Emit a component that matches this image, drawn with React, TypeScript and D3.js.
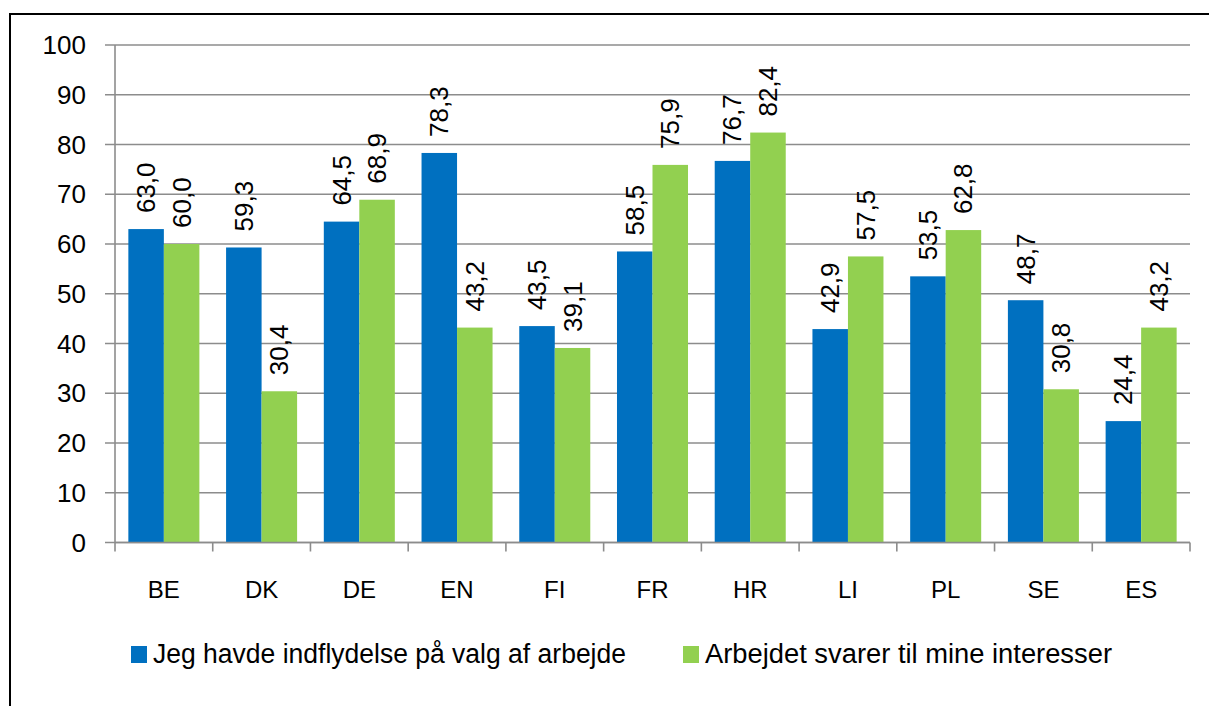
import React from "react";
import * as d3 from "d3";

const categories = ["BE", "DK", "DE", "EN", "FI", "FR", "HR", "LI", "PL", "SE", "ES"];
const seriesNames = [
  "Jeg havde indflydelse på valg af arbejde",
  "Arbejdet svarer til mine interesser",
];
const influenceValues = [63.0, 59.3, 64.5, 78.3, 43.5, 58.5, 76.7, 42.9, 53.5, 48.7, 24.4];
const interestValues = [60.0, 30.4, 68.9, 43.2, 39.1, 75.9, 82.4, 57.5, 62.8, 30.8, 43.2];
const yTicks = [0, 10, 20, 30, 40, 50, 60, 70, 80, 90, 100];
const colors = ["#0070C0", "#92D050"];

const W = 1209;
const H = 706;
const plotLeft = 115;
const plotRight = 1190;
const plotTop = 45;
const plotBottom = 542.5;
const FONT = "'Liberation Sans', Arial, sans-serif";

export default function App() {
  const x = d3.scaleBand<string>().domain(categories).range([plotLeft, plotRight]).padding(0);
  const x1 = d3
    .scaleBand<number>()
    .domain([0, 1])
    .range([0, x.bandwidth()])
    .paddingInner(0)
    .paddingOuter(0.376);
  const y = d3.scaleLinear().domain([0, 100]).range([plotBottom, plotTop]);
  const fmt = (v: number) => d3.format(".1f")(v).replace(".", ",");
  const series = [influenceValues, interestValues];
  const boundaries = [...categories.map((c) => x(c) as number), plotRight];

  return (
    <svg
      width={W}
      height={H}
      style={{ position: "absolute", left: 0, top: 0, background: "#fff" }}
      fontFamily={FONT}
    >
      <rect x={0} y={0} width={W} height={H} fill="#fff" />
      {/* outer chart border */}
      <rect x={10} y={14} width={W + 20} height={H + 20} fill="none" stroke="#000" strokeWidth={2} />

      {/* gridlines & y ticks */}
      {yTicks.map((t) => (
        <g key={t}>
          <line
            x1={plotLeft - 10}
            x2={plotRight}
            y1={y(t)}
            y2={y(t)}
            stroke="#8c8c8c"
            strokeWidth={1.6}
          />
          <text
            x={86}
            y={y(t)}
            textAnchor="end"
            dominantBaseline="central"
            fontSize={26}
            fill="#000"
          >
            {t}
          </text>
        </g>
      ))}

      {/* y axis line */}
      <line x1={plotLeft} x2={plotLeft} y1={plotTop} y2={plotBottom} stroke="#8c8c8c" strokeWidth={1.6} />

      {/* x tick marks */}
      {boundaries.map((b, i) => (
        <line key={i} x1={b} x2={b} y1={plotBottom} y2={plotBottom + 9} stroke="#8c8c8c" strokeWidth={1.6} />
      ))}

      {/* bars */}
      {series.map((vals, si) =>
        vals.map((v, i) => {
          const bx = (x(categories[i]) as number) + (x1(si) as number);
          return (
            <rect
              key={`${si}-${i}`}
              x={bx}
              y={y(v)}
              width={x1.bandwidth()}
              height={plotBottom - y(v)}
              fill={colors[si]}
            />
          );
        })
      )}

      {/* redraw x axis line over bars */}
      <line x1={plotLeft} x2={plotRight} y1={plotBottom} y2={plotBottom} stroke="#8c8c8c" strokeWidth={1.6} />

      {/* value labels */}
      {series.map((vals, si) =>
        vals.map((v, i) => {
          const cx = (x(categories[i]) as number) + (x1(si) as number) + x1.bandwidth() / 2;
          const ty = y(v) - 16;
          return (
            <text
              key={`l-${si}-${i}`}
              transform={`translate(${cx},${ty}) rotate(-90)`}
              textAnchor="start"
              dominantBaseline="central"
              fontSize={26}
              fill="#000"
            >
              {fmt(v)}
            </text>
          );
        })
      )}

      {/* category labels */}
      {categories.map((c) => (
        <text
          key={c}
          x={(x(c) as number) + x.bandwidth() / 2}
          y={598}
          textAnchor="middle"
          fontSize={24}
          fill="#000"
        >
          {c}
        </text>
      ))}

      {/* legend */}
      <g>
        <rect x={131} y={646} width={16} height={17} fill={colors[0]} />
        <text x={153} y={663} fontSize={27} fill="#000" textLength={473} lengthAdjust="spacingAndGlyphs">
          {seriesNames[0]}
        </text>
        <rect x={683} y={646} width={16} height={17} fill={colors[1]} />
        <text x={705} y={663} fontSize={27} fill="#000" textLength={407} lengthAdjust="spacingAndGlyphs">
          {seriesNames[1]}
        </text>
      </g>
    </svg>
  );
}
